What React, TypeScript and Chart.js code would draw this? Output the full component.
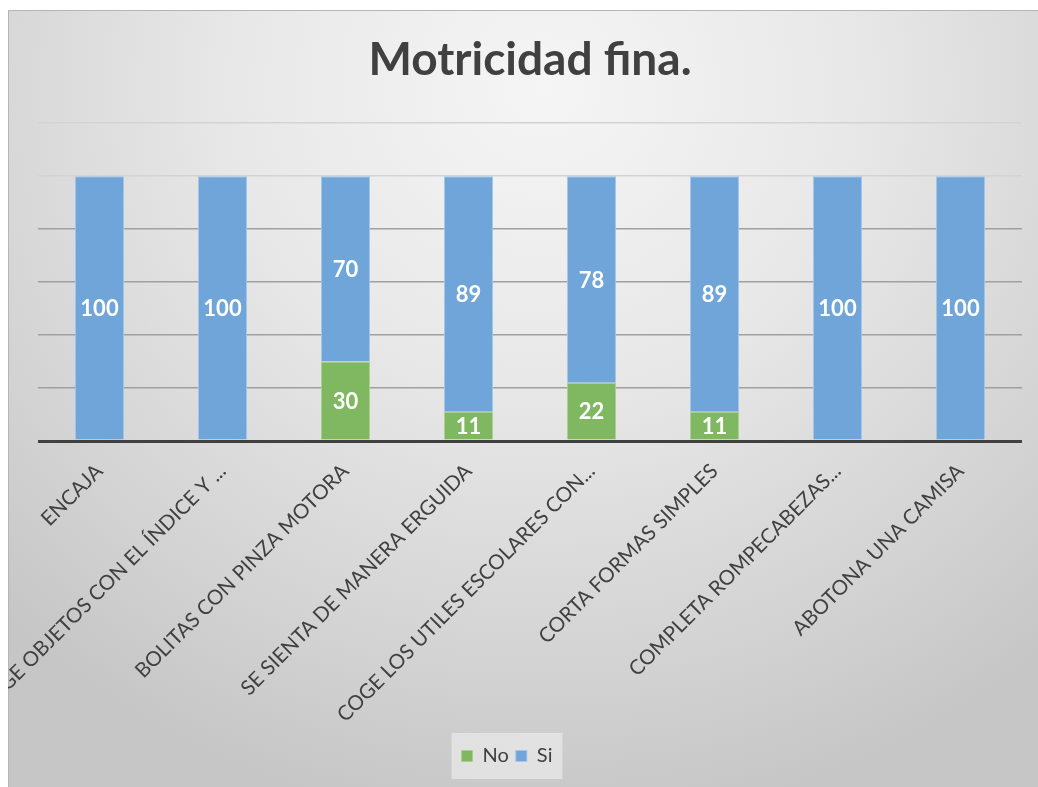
import React, { useEffect, useRef } from "react";
import { Chart, registerables } from "chart.js";

Chart.register(...registerables);

const categories = [
  "ENCAJA",
  "COGE OBJETOS CON EL ÍNDICE Y ...",
  "BOLITAS CON PINZA MOTORA",
  "SE SIENTA DE MANERA ERGUIDA",
  "COGE LOS UTILES ESCOLARES CON...",
  "CORTA FORMAS SIMPLES",
  "COMPLETA ROMPECABEZAS...",
  "ABOTONA UNA CAMISA",
];
const noValues = [0, 0, 30, 11, 22, 11, 0, 0];
const siValues = [100, 100, 70, 89, 78, 89, 100, 100];
const yTicks = [0, 20, 40, 60, 80, 100, 120];

const TEXT = "#404040";
const LEGEND_SHIFT = -23;

const valueLabels = {
  id: "valueLabels",
  afterDatasetsDraw(chart: any) {
    const ctx = chart.ctx;
    ctx.save();
    ctx.fillStyle = "#ffffff";
    ctx.font = "bold 22px Lato";
    ctx.textAlign = "center";
    ctx.textBaseline = "middle";
    chart.data.datasets.forEach((ds: any, di: number) => {
      const meta = chart.getDatasetMeta(di);
      meta.data.forEach((bar: any, i: number) => {
        const v = ds.data[i];
        if (!v) return;
        ctx.fillText(String(v), bar.x, (bar.y + bar.base) / 2 + 1);
      });
    });
    ctx.restore();
  },
};

const legendShift = {
  id: "legendShift",
  afterLayout(chart: any) {
    const lg = chart.legend;
    if (!lg) return;
    lg.left += LEGEND_SHIFT;
    lg.right += LEGEND_SHIFT;
    (lg.legendHitBoxes || []).forEach((h: any) => {
      h.left += LEGEND_SHIFT;
    });
  },
};

const legendBg = {
  id: "legendBg",
  beforeDraw(chart: any) {
    const lg = chart.legend;
    if (!lg || !lg.legendHitBoxes || !lg.legendHitBoxes.length) return;
    const hb = lg.legendHitBoxes;
    let minX = Infinity, maxX = -Infinity;
    hb.forEach((h: any) => {
      minX = Math.min(minX, h.left);
      maxX = Math.max(maxX, h.left + h.width);
    });
    const pad = lg.options.labels.padding;
    const itemTop = lg.top + pad;
    const itemH = 20;
    const ctx = chart.ctx;
    ctx.save();
    ctx.fillStyle = "rgba(232,232,232,0.75)";
    ctx.fillRect(minX - 10, itemTop - 13, maxX - minX + 20, itemH + 26);
    ctx.restore();
  },
};

export default function App() {
  const ref = useRef<HTMLCanvasElement | null>(null);
  useEffect(() => {
    if (!ref.current) return;
    const chart = new Chart(ref.current, {
      type: "bar",
      data: {
        labels: categories,
        datasets: [
          {
            label: "No",
            data: noValues,
            backgroundColor: "#80b761",
            borderColor: "#a9d18e",
            borderWidth: 1,
            barPercentage: 0.4,
            categoryPercentage: 1,
          },
          {
            label: "Si",
            data: siValues,
            backgroundColor: "#6fa5d8",
            borderColor: "#a3c6e9",
            borderWidth: 1,
            barPercentage: 0.4,
            categoryPercentage: 1,
          },
        ],
      },
      plugins: [legendShift, valueLabels, legendBg],
      options: {
        animation: false,
        responsive: true,
        maintainAspectRatio: false,
        layout: { padding: { left: 30, right: 16, top: 0, bottom: 11 } },
        plugins: {
          title: {
            display: true,
            text: "Motricidad fina.",
            color: TEXT,
            font: { family: "Lato", size: 46, weight: "bold" },
            padding: { top: 23, bottom: 35 },
          },
          legend: {
            position: "bottom",
            labels: {
              color: TEXT,
              font: { family: "Lato", size: 20 },
              boxWidth: 11,
              boxHeight: 11,
              padding: 7,
            },
          },
          tooltip: { enabled: false },
        },
        scales: {
          x: {
            stacked: true,
            grid: { display: false, drawTicks: false },
            border: { display: false },
            ticks: {
              color: TEXT,
              font: { family: "Lato", size: 20.5 },
              minRotation: 45,
              maxRotation: 45,
              autoSkip: false,
              padding: 18,
            },
            afterFit(scale: any) {
              scale.height = 298;
              scale.paddingLeft = 0;
              scale.paddingRight = 0;
            },
          },
          y: {
            stacked: true,
            min: 0,
            max: 120,
            afterBuildTicks(scale: any) {
              scale.ticks = yTicks.map((v) => ({ value: v }));
            },
            ticks: { display: false },
            border: { display: false },
            grid: {
              drawTicks: false,
              color: (c: any) => {
                const v = c.tick ? c.tick.value : -1;
                if (v === 0) return "#404040";
                if (v >= 100) return "#d3d3d3";
                return "#a0a0a0";
              },
              lineWidth: (c: any) => (c.tick && c.tick.value === 0 ? 3 : 1.5),
            },
            afterFit(scale: any) {
              scale.width = 0;
            },
          },
        },
      } as any,
    });
    return () => chart.destroy();
  }, []);

  return (
    <div
      style={{
        position: "absolute",
        left: 8,
        top: 10,
        width: 1030,
        height: 777,
        background:
          "radial-gradient(ellipse 75% 95% at 52% 10%, #f5f5f5 0%, #e8e8e8 40%, #d2d2d2 80%, #c6c6c6 100%)",
        boxShadow: "inset 1px 1px 0 #b5b5b5",
      }}
    >
      <canvas ref={ref} />
    </div>
  );
}
